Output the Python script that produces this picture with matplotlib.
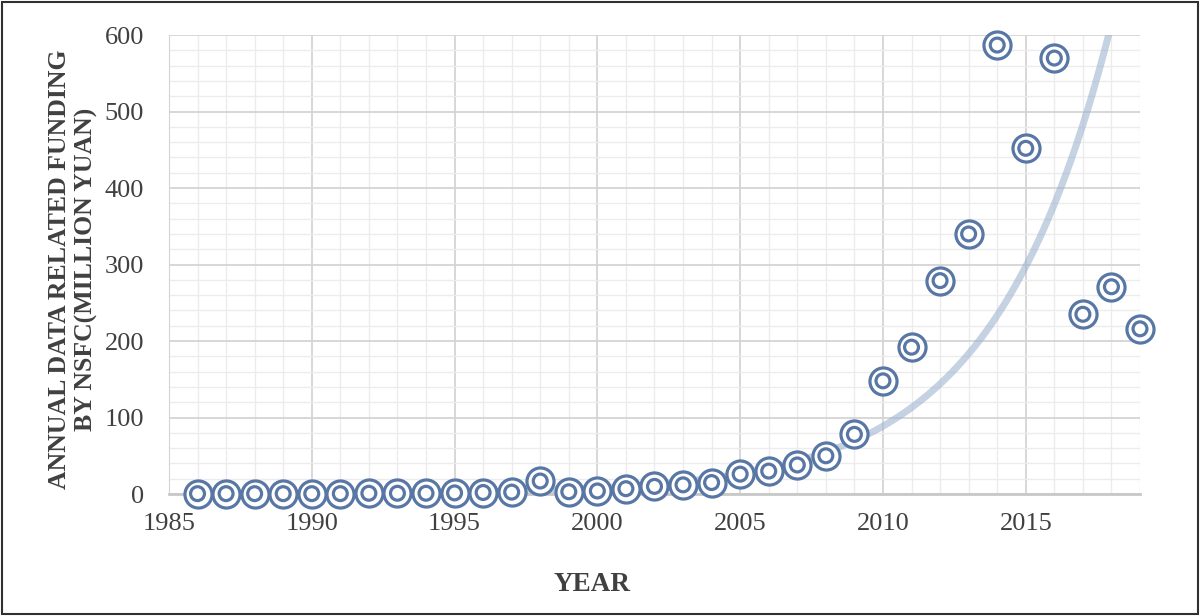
import numpy as np
import matplotlib
matplotlib.use('Agg')
import matplotlib.pyplot as plt
from matplotlib.ticker import MultipleLocator

years = list(range(1986, 2020))
funding = [0.5, 0.5, 0.5, 0.5, 0.5, 0.5, 1, 1, 1, 1.5, 2, 2.5, 17, 3, 4, 7,
           10, 12, 15, 26, 30, 38, 50, 78, 148, 192, 279, 340, 587, 452, 570,
           235, 271, 216]

# exponential trendline: y = a * exp(b * (x - 2011))
trend_a = 113
trend_b = 0.242

plt.rcParams['font.family'] = ['Liberation Serif', 'DejaVu Serif']

fig = plt.figure(figsize=(12, 6.16), dpi=100)
ax = fig.add_axes([0.1408, 0.198, 0.8092, 0.745])

x = np.array(years)
y = np.array(funding)

tx = np.linspace(1986, 2019, 400)
ty = trend_a * np.exp(trend_b * (tx - 2011))
ax.plot(tx, ty, color='#9fb4d0', lw=5, alpha=0.6, solid_capstyle='round', zorder=2)

mc = '#5877a5'
ax.scatter(x, y, s=380, facecolor='white', edgecolor=mc, linewidth=2.3, zorder=3, clip_on=False)
ax.scatter(x, y, s=100, facecolor='none', edgecolor=mc, linewidth=2.3, zorder=4, clip_on=False)

ax.set_xlim(1985, 2019)
ax.set_ylim(0, 600)
ax.xaxis.set_major_locator(MultipleLocator(5))
ax.xaxis.set_minor_locator(MultipleLocator(1))
ax.yaxis.set_major_locator(MultipleLocator(100))
ax.yaxis.set_minor_locator(MultipleLocator(20))
ax.grid(which='major', color='#d4d4d4', lw=1.3)
ax.grid(which='minor', color='#ececec', lw=1.0)
ax.set_axisbelow(True)

for s in ['top', 'right']:
    ax.spines[s].set_visible(False)
ax.spines['left'].set_color('#d4d4d4')
ax.spines['bottom'].set_color('#c8c8c8')
ax.spines['bottom'].set_linewidth(2)
ax.tick_params(which='both', length=0, labelsize=19, colors='#404040')
ax.tick_params(axis='x', pad=14)
ax.tick_params(axis='y', pad=18)

ax.set_xlabel('YEAR', fontsize=19.5, fontweight='bold', color='#404040')
ax.xaxis.set_label_coords(0.436, -0.17)
ax.set_ylabel('ANNUAL DATA RELATED FUNDING\nBY NSFC(MILLION YUAN)', fontsize=18.5,
              fontweight='bold', color='#404040', linespacing=1.2)
ax.yaxis.set_label_coords(-0.073, 0.49)

# outer frame
fig.patches.append(plt.Rectangle((0.002, 0.003), 0.996, 0.994, transform=fig.transFigure,
                                 fill=False, edgecolor='#303030', lw=1.5))

fig.savefig('out.png', dpi=100)
